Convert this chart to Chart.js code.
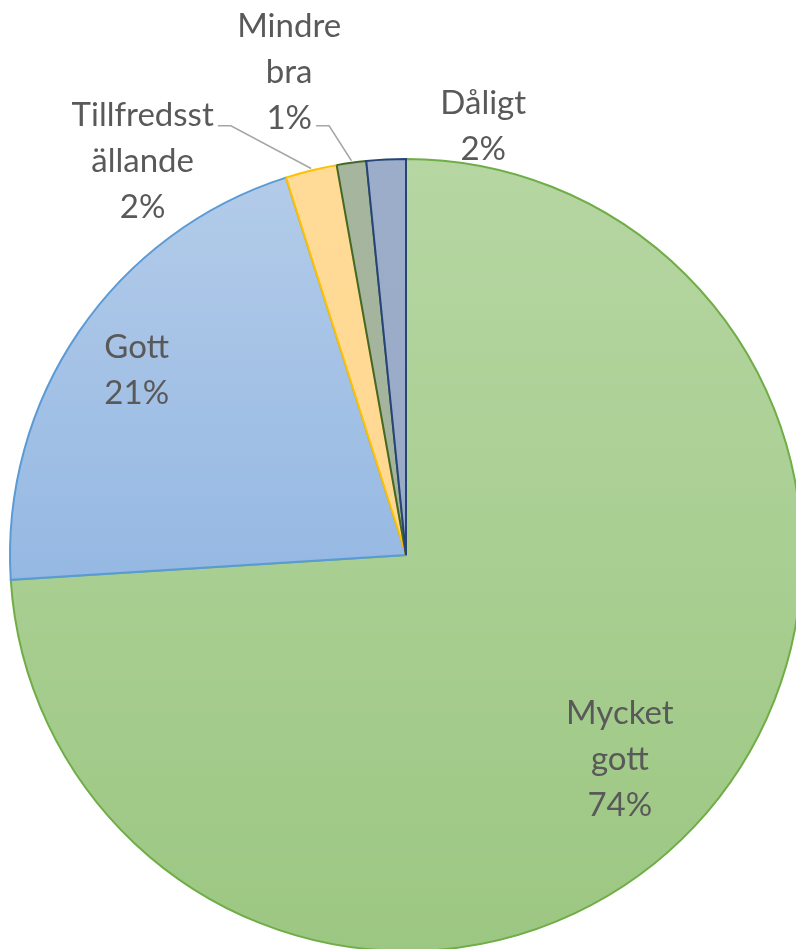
<!DOCTYPE html>
<html>
<head>
<meta charset="utf-8">
<script src="https://cdn.jsdelivr.net/npm/chart.js@4"></script>
<style>
  html, body { margin: 0; padding: 0; background: #fff; overflow: hidden; }
  #wrap { position: absolute; left: 0; top: 0; width: 796px; height: 949px; overflow: hidden; }
  canvas { position: absolute; left: 0; top: 0; }
</style>
</head>
<body>
<div id="wrap"><canvas id="pie" width="820" height="960"></canvas></div>
<script>
// data
const categories = ["Mycket gott", "Gott", "Tillfredsställande", "Mindre bra", "Dåligt"];
const shares = [74.0, 21.1, 2.1, 1.2, 1.6];

// how the category names wrap in the labels
const labelLines = [["Mycket", "gott"], ["Gott"], ["Tillfredsst", "ällande"], ["Mindre", "bra"], ["Dåligt"]];

const topColors = ["#b6d6a2", "#b4cce9", "#ffdb98", "#a5b59e", "#9cadca"];
const bottomColors = ["#9cc782", "#7aa7dd", "#ffd68a", "#a1b19a", "#97a8c6"];
const borderColors = ["#70ad47", "#5b9bd5", "#ffc000", "#43682b", "#264478"];

// label centre, relative to the pie centre, in units of the radius
const labelOffsets = [[0.54, 0.516], [-0.68, -0.466], [-0.665, -0.995], [-0.295, -1.218], [0.195, -1.083]];
// leader lines: [label side x, y] (in radius units) for slices that need them
const leaders = { 2: [-0.475, -1.084], 3: [-0.227, -1.084] };

const ctx = document.getElementById("pie").getContext("2d");

function sliceFill(c) {
  const area = c.chart.chartArea;
  const i = c.dataIndex;
  if (!area) return topColors[i];
  const g = c.chart.ctx.createLinearGradient(0, area.top, 0, area.bottom);
  g.addColorStop(0, topColors[i]);
  g.addColorStop(1, bottomColors[i]);
  return g;
}

const labelPlugin = {
  id: "sliceLabels",
  afterDatasetsDraw(chart) {
    const meta = chart.getDatasetMeta(0);
    const c = chart.ctx;
    const total = shares.reduce((a, b) => a + b, 0);
    c.save();
    meta.data.forEach((arc, i) => {
      const cx = arc.x, cy = arc.y, r = arc.outerRadius;

      if (leaders[i]) {
        const mid = (arc.startAngle + arc.endAngle) / 2;
        const ex = cx + Math.cos(mid) * r;
        const ey = cy + Math.sin(mid) * r;
        const lx = cx + leaders[i][0] * r;
        const ly = cy + leaders[i][1] * r;
        c.strokeStyle = "#a6a6a6";
        c.lineWidth = 1.5;
        c.beginPath();
        c.moveTo(lx, ly);
        c.lineTo(lx + 13, ly);
        c.lineTo(ex, ey - 2);
        c.stroke();
      }

      const lines = labelLines[i].concat([Math.round(shares[i] / total * 100) + "%"]);
      const x = cx + labelOffsets[i][0] * r;
      const y = cy + labelOffsets[i][1] * r;
      const lh = 46;
      c.fillStyle = "#595959";
      c.font = "33px Lato";
      c.textAlign = "center";
      c.textBaseline = "middle";
      lines.forEach((t, k) => {
        c.fillText(t, x, y + (k - (lines.length - 1) / 2) * lh);
      });
    });
    c.restore();
  }
};

new Chart(ctx, {
  type: "pie",
  data: {
    labels: categories,
    datasets: [{
      data: shares,
      backgroundColor: sliceFill,
      borderColor: borderColors,
      borderWidth: 2,
      borderJoinStyle: "miter",
      borderAlign: "center"
    }]
  },
  options: {
    responsive: false,
    animation: false,
    layout: { padding: { left: 9, top: 158, right: 17, bottom: 8 } },
    plugins: {
      legend: { display: false },
      tooltip: { enabled: false }
    }
  },
  plugins: [labelPlugin]
});
</script>
</body>
</html>
